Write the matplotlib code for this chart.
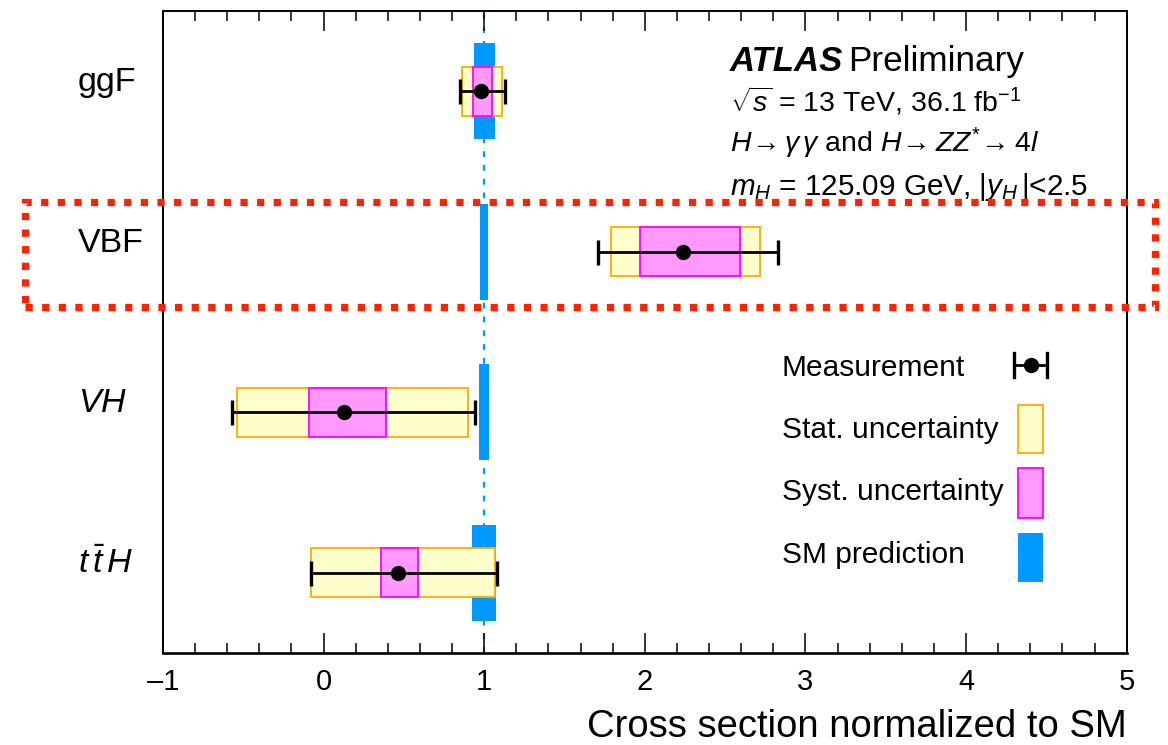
import matplotlib
matplotlib.use('Agg')
import matplotlib.pyplot as plt
from matplotlib.patches import Rectangle
from matplotlib.lines import Line2D
from matplotlib.ticker import MultipleLocator
from matplotlib.transforms import blended_transform_factory

plt.rcParams['font.family'] = ['Liberation Sans', 'DejaVu Sans']
plt.rcParams['mathtext.fontset'] = 'custom'
plt.rcParams['mathtext.rm'] = 'Liberation Sans'
plt.rcParams['mathtext.it'] = 'Liberation Sans:italic'
plt.rcParams['mathtext.bf'] = 'Liberation Sans:bold'

# ---- data ----
categories = ['ggF', 'VBF', r'$VH$', r'$t\,\bar{t}\,H$']
central = [0.98, 2.24, 0.13, 0.46]
total_lo = [0.13, 0.53, 0.70, 0.54]
total_hi = [0.15, 0.59, 0.81, 0.62]
stat_lo = [0.12, 0.45, 0.67, 0.54]
stat_hi = [0.13, 0.48, 0.77, 0.61]
syst_lo = [0.05, 0.27, 0.22, 0.10]
syst_hi = [0.07, 0.35, 0.26, 0.13]
sm_value = 1.0
sm_unc = [0.065, 0.025, 0.03, 0.075]
xticks = [-1, 0, 1, 2, 3, 4, 5]
legend_labels = ['Measurement', 'Stat. uncertainty', 'Syst. uncertainty', 'SM prediction']

W, H = 1168, 745
fig = plt.figure(figsize=(W / 100, H / 100), dpi=100)

def fx(px):
    return px / W

def fy(py):
    return 1 - py / H

ax = fig.add_axes([fx(163), fy(653), fx(1126.7) - fx(163), fy(11) - fy(653)])

C_STAT = '#ffffcc'
E_STAT = '#ffaa00'
C_SYST = '#ff99ff'
E_SYST = '#ff00ff'
C_SM = '#0099ff'

n = len(categories)
ypos = [n - 1 - i for i in range(n)]

# SM reference dotted line
ax.axvline(sm_value, color=C_SM, lw=1.6, ls=(0, (2.6, 3.6)), zorder=1)

# SM prediction bands
ax.barh(ypos, [2 * u for u in sm_unc], left=[sm_value - u for u in sm_unc],
        height=0.6, color=C_SM, edgecolor='none', zorder=2)

# stat boxes
ax.barh(ypos, [l + h for l, h in zip(stat_lo, stat_hi)],
        left=[c - l for c, l in zip(central, stat_lo)], height=0.305,
        facecolor=C_STAT, edgecolor=E_STAT, lw=1.3, zorder=3)
# syst boxes
ax.barh(ypos, [l + h for l, h in zip(syst_lo, syst_hi)],
        left=[c - l for c, l in zip(central, syst_lo)], height=0.305,
        facecolor=C_SYST, edgecolor=E_SYST, lw=1.3, zorder=4)

# measurement
ax.errorbar(central, ypos, xerr=[total_lo, total_hi], fmt='o', color='k',
            ms=10, elinewidth=2.0, capsize=9, capthick=2.4, zorder=5)

ax.set_xlim(-1, 5)
ax.set_ylim(-0.5, n - 0.5)
ax.set_xticks(xticks)
ax.set_xticklabels([('\u2013' + str(-t)) if t < 0 else str(t) for t in xticks])
ax.xaxis.set_minor_locator(MultipleLocator(0.2))
ax.set_yticks([])
ax.tick_params(axis='x', which='both', direction='in', top=True, bottom=True,
               labelsize=21, pad=11)
ax.tick_params(axis='x', which='major', length=14.5, width=1.1)
ax.tick_params(axis='x', which='minor', length=7.2, width=1.1)
for s in ['left', 'right', 'top']:
    ax.spines[s].set_linewidth(1.4)
ax.spines['bottom'].set_linewidth(1.9)

# category labels
tr = blended_transform_factory(fig.transFigure, ax.transData)
for lab, y in zip(categories, ypos):
    ax.text(fx(78), y, lab, transform=tr, ha='left', va='baseline',
            fontsize=24.5)

# x label
fig.text(fx(1126.7), fy(737), 'Cross section normalized to SM', ha='right',
         va='baseline', fontsize=27.5)

# ATLAS text block
fig.text(fx(730), fy(70.7), 'ATLAS', fontsize=25, fontweight='bold',
         fontstyle='italic', va='baseline')
fig.text(fx(848), fy(70.7), 'Preliminary', fontsize=25.3, va='baseline')
fig.text(fx(730), fy(111.7), r'$\sqrt{s}$ = 13 TeV, 36.1 fb$^{-1}$',
         fontsize=20.5, va='baseline')
fig.text(fx(730), fy(152),
         r'$H\!\rightarrow\gamma\,\gamma$ and $H\!\rightarrow ZZ^{*}\!\rightarrow 4l$',
         fontsize=20.5, va='baseline')
fig.text(fx(730), fy(195), r'$m_{H}$ = 125.09 GeV, |$y_{H}\,$|<2.5',
         fontsize=21.3, va='baseline')

# legend (manual)
leg_base = [376, 438, 500, 563]
for lab, b in zip(legend_labels, leg_base):
    fig.text(fx(782), fy(b), lab, fontsize=21.5, va='baseline')
# measurement symbol
ym = fy(365)
fig.add_artist(Line2D([fx(1014), fx(1047)], [ym, ym], color='k', lw=2.0,
                      transform=fig.transFigure))
for xc in (1014, 1047):
    fig.add_artist(Line2D([fx(xc), fx(xc)], [fy(353), fy(377)], color='k',
                          lw=2.4, transform=fig.transFigure))
fig.add_artist(Line2D([fx(1030.5)], [ym], marker='o', color='k', ms=10,
                      transform=fig.transFigure))
# boxes
for (top, bot), fc, ec in [((405, 453), C_STAT, E_STAT),
                            ((468, 517.7), C_SYST, E_SYST),
                            ((532.7, 582.3), C_SM, 'none')]:
    fig.add_artist(Rectangle((fx(1017.7), fy(bot)), fx(1042.7) - fx(1017.7),
                             fy(top) - fy(bot), facecolor=fc, edgecolor=ec,
                             lw=1.3, transform=fig.transFigure))

# red dotted highlight box around VBF
fig.add_artist(Rectangle((fx(25), fy(307)), fx(1155) - fx(25), fy(202) - fy(307),
                         fill=False, edgecolor='#ff2200', lw=5.2,
                         linestyle=(0, (1.0, 1.3)), transform=fig.transFigure,
                         zorder=10))

fig.savefig('out.png', dpi=100)
